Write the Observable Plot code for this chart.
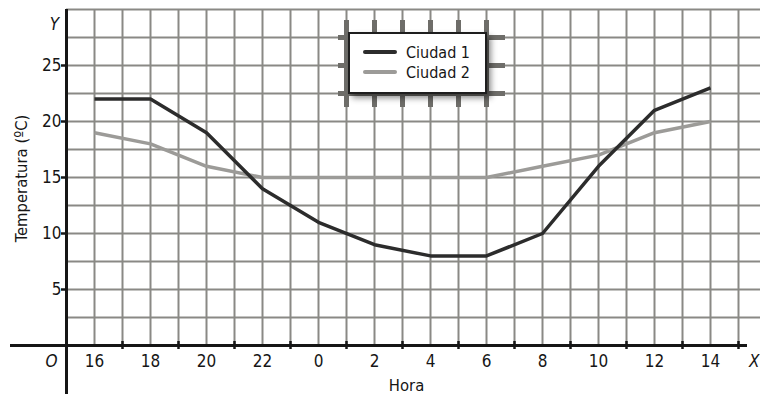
<!DOCTYPE html>
<html><head><meta charset="utf-8">
<script src="https://cdn.jsdelivr.net/npm/d3@7"></script>
<script src="https://cdn.jsdelivr.net/npm/@observablehq/plot@0.6"></script>
<style>
html,body{margin:0;padding:0;background:#fff;}
#wrap{position:relative;width:760px;height:394px;overflow:hidden;font-family:"DejaVu Sans Condensed","DejaVu Sans",sans-serif;font-stretch:condensed;}
#wrap svg{display:block;font-stretch:condensed;}
#legend{position:absolute;left:348px;top:32px;width:139px;height:62px;box-sizing:border-box;border:2px solid #1e1e1e;background:#fff;box-shadow:4px 4px 6px rgba(0,0,0,0.45);}
.item{position:absolute;left:13px;height:20px;display:flex;align-items:center;font-size:16px;color:#161616;}
.sw{width:34px;height:4px;border-radius:2px;margin-right:9px;}
</style>
</head><body>
<div id="wrap"></div>
<script>
const hours = ["16","18","20","22","0","2","4","6","8","10","12","14"];
const ciudad1 = [22,22,19,14,11,9,8,8,10,16,21,23];
const ciudad2 = [19,18,16,15,15,15,15,15,16,17,19,20];
const yTicks = [5,10,15,20,25];
const seriesNames = ["Ciudad 1","Ciudad 2"];
const seriesColors = ["#2c2c2c","#9c9b98"];

const rows = hours.map((h,i)=>({pos:i*2, hour:h, c1:ciudad1[i], c2:ciudad2[i]}));

const UX = 28;          // px per hour
const UY = 28/2.5;      // px per degree
const X = px => -1 + (px-66)/UX;
const Y = py => (345-py)/UY;
const xDomain = [-1, X(760)];
const gridX = d3.range(0, 24);
const gridY = d3.range(2.5, 30.01, 2.5);
const oddTicks = d3.range(1, 24, 2);
const gridColor = "#8a8985";
const ink = "#161616";

const chart = Plot.plot({
  width:760, height:394,
  marginLeft:66, marginRight:0, marginTop:9, marginBottom:49,
  x:{domain:xDomain, axis:null},
  y:{domain:[0,30], axis:null},
  style:{fontFamily:"'DejaVu Sans Condensed', 'DejaVu Sans', sans-serif", background:"#fff", overflow:"visible"},
  marks:[
    Plot.ruleY(gridY, {x1:-1, x2:xDomain[1], stroke:gridColor, strokeWidth:2}),
    Plot.ruleX(gridX, {y1:0, y2:30, stroke:gridColor, strokeWidth:2}),
    // chip pins behind legend
    Plot.ruleX(d3.range(9, 15), {y1:Y(107), y2:Y(20), stroke:"#6e6d69", strokeWidth:5}),
    Plot.ruleY([22.5,25,27.5], {x1:X(338), x2:X(505), stroke:"#6e6d69", strokeWidth:5}),
    // data
    Plot.line(rows, {x:"pos", y:"c2", stroke:seriesColors[1], strokeWidth:3.5, strokeLinecap:"butt"}),
    Plot.line(rows, {x:"pos", y:"c1", stroke:seriesColors[0], strokeWidth:3.5, strokeLinecap:"butt"}),
    // axes
    Plot.ruleY([0], {x1:X(10), x2:X(747), stroke:ink, strokeWidth:3}),
    Plot.ruleX([-1], {y1:Y(394), y2:Y(9), stroke:ink, strokeWidth:3}),
    Plot.ruleX(oddTicks, {y1:-4/UY, y2:4/UY, stroke:ink, strokeWidth:2.5}),
    Plot.ruleY(yTicks, {x1:X(61), x2:-1, stroke:ink, strokeWidth:2.5}),
    Plot.text(rows, {x:"pos", y:0, text:"hour", dy:16, fontSize:17, fill:ink}),
    Plot.text(yTicks, {x:-1, y:d=>d, dx:-5, text:d=>String(d), textAnchor:"end", fontSize:17, fill:ink}),
    Plot.text(["Y"], {x:X(54), y:Y(24), fontSize:17, fontStyle:"italic", fill:ink}),
    Plot.text(["O"], {x:X(51), y:Y(361), fontSize:17, fontStyle:"italic", fill:ink}),
    Plot.text(["X"], {x:X(759), y:Y(361), textAnchor:"end", fontSize:17, fontStyle:"italic", fill:ink}),
    Plot.text(["Hora"], {x:X(406), y:Y(385), fontSize:16.5, fill:ink}),
    Plot.text(["Temperatura (ºC)"], {x:X(21), y:Y(178), rotate:-90, fontSize:16.5, fill:ink})
  ]
});
const wrap = document.getElementById("wrap");
wrap.appendChild(chart);
const leg = document.createElement("div");
leg.id = "legend";
seriesNames.forEach((n,i)=>{
  const it = document.createElement("div");
  it.className = "item";
  it.style.top = (8 + i*20) + "px";
  const sw = document.createElement("span");
  sw.className = "sw";
  sw.style.background = seriesColors[i];
  it.appendChild(sw);
  it.appendChild(document.createTextNode(n));
  leg.appendChild(it);
});
wrap.appendChild(leg);
</script>
</body></html>
